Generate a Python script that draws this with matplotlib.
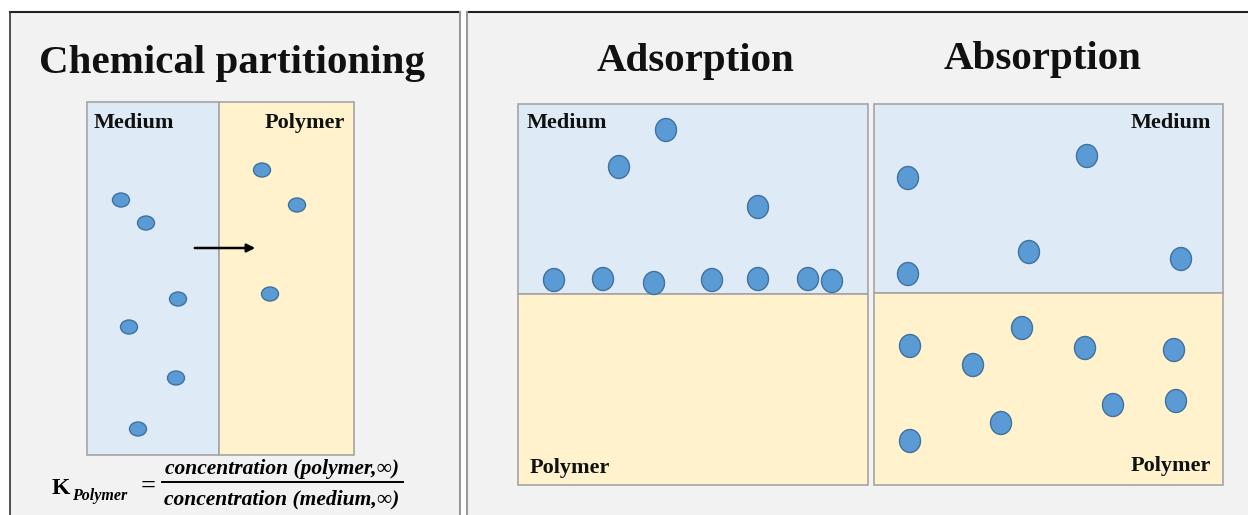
import matplotlib.pyplot as plt
from matplotlib.patches import Rectangle, Ellipse

# dot centres, in pixel coordinates of the reference picture
part_medium_x = [121, 146, 178, 129, 176, 138]
part_medium_y = [200, 223, 299, 327, 378, 429]
part_polymer_x = [262, 297, 270]
part_polymer_y = [170, 205, 294]

ads_medium_x = [666, 619, 758]
ads_medium_y = [130, 167, 207]
ads_surface_x = [554, 603, 654, 712, 758, 808, 832]
ads_surface_y = [280, 279, 283, 280, 279, 279, 281]

abs_medium_x = [908, 1087, 1029, 908, 1181]
abs_medium_y = [178, 156, 252, 274, 259]
abs_polymer_x = [910, 973, 1022, 1085, 1174, 1001, 1113, 1176, 910]
abs_polymer_y = [346, 365, 328, 348, 350, 423, 405, 401, 441]

MEDIUM = '#deebf7'
POLYMER = '#fff2cc'
PANEL = '#f2f2f2'
DOT = '#5b9bd5'
DOT_EDGE = '#41719c'
BOX_EDGE = '#a5a5a5'
SERIF = ['Liberation Serif', 'DejaVu Serif']


def box(ax, x0, y0, x1, y1, color):
    ax.add_patch(Rectangle((x0, y0), x1 - x0, y1 - y0, facecolor=color,
                           edgecolor=BOX_EDGE, lw=1.2, zorder=2))


def dots(ax, xs, ys, w, h):
    for x, y in zip(xs, ys):
        ax.add_patch(Ellipse((x, y), w, h, facecolor=DOT, edgecolor=DOT_EDGE,
                             lw=1.0, zorder=4))


def label(ax, x, y, s, ha='left'):
    ax.text(x, y, s, ha=ha, va='center', fontsize=16, fontweight='bold',
            family=SERIF, color='#111111', zorder=5)


def main():
    fig = plt.figure(figsize=(12.48, 5.15), dpi=100)
    ax = fig.add_axes([0, 0, 1, 1])
    ax.set_xlim(0, 1248)
    ax.set_ylim(515, 0)
    ax.axis('off')

    # the two gray panels
    ax.add_patch(Rectangle((10, 12), 450, 510, facecolor=PANEL, edgecolor='none', zorder=0))
    ax.add_patch(Rectangle((467, 12), 790, 510, facecolor=PANEL, edgecolor='none', zorder=0))
    ax.plot([10, 460], [12, 12], color='#222222', lw=1.5, zorder=1)
    ax.plot([10, 10], [12, 515], color='#333333', lw=1.2, zorder=1)
    ax.plot([460, 460], [12, 515], color='#999999', lw=1.5, zorder=1)
    ax.plot([467, 1248], [12, 12], color='#222222', lw=1.5, zorder=1)
    ax.plot([467, 467], [12, 515], color='#999999', lw=1.5, zorder=1)

    # chemical partitioning
    ax.text(232, 64, 'Chemical partitioning', ha='center', va='center',
            fontsize=29.5, fontweight='bold', family=SERIF, color='#111111')
    box(ax, 87, 102, 219, 455, MEDIUM)
    box(ax, 219, 102, 354, 455, POLYMER)
    label(ax, 94, 123, 'Medium')
    label(ax, 345, 123, 'Polymer', ha='right')
    dots(ax, part_medium_x, part_medium_y, 17, 14)
    dots(ax, part_polymer_x, part_polymer_y, 17, 14)
    ax.annotate('', xy=(258, 248), xytext=(192, 248),
                arrowprops=dict(arrowstyle='-|>', color='black', lw=1.8,
                                mutation_scale=12), zorder=5)

    # formula
    ax.text(52, 489, 'K', ha='left', va='center', fontsize=17,
            fontweight='bold', family=SERIF)
    ax.text(72, 496, 'Polymer', ha='left', va='center', fontsize=11.5,
            fontweight='bold', fontstyle='italic', family=SERIF)
    ax.text(148, 486, '=', ha='center', va='center', fontsize=19,
            fontweight='bold', family=SERIF)
    ax.plot([162, 403], [482, 482], color='black', lw=1.4)
    ax.text(282, 469, 'concentration (polymer,\u221e)', ha='center', va='center',
            fontsize=15.5, fontweight='bold', fontstyle='italic', family=SERIF)
    ax.text(282, 499, 'concentration (medium,\u221e)', ha='center', va='center',
            fontsize=15.5, fontweight='bold', fontstyle='italic', family=SERIF)

    # adsorption
    ax.text(696, 62, 'Adsorption', ha='center', va='center', fontsize=29.5,
            fontweight='bold', family=SERIF, color='#111111')
    box(ax, 518, 104, 868, 294, MEDIUM)
    box(ax, 518, 294, 868, 485, POLYMER)
    label(ax, 527, 123, 'Medium')
    label(ax, 530, 468, 'Polymer')
    dots(ax, ads_medium_x, ads_medium_y, 21, 23)
    dots(ax, ads_surface_x, ads_surface_y, 21, 23)

    # absorption
    ax.text(1043, 59, 'Absorption', ha='center', va='center', fontsize=29.5,
            fontweight='bold', family=SERIF, color='#111111')
    box(ax, 874, 104, 1223, 293, MEDIUM)
    box(ax, 874, 293, 1223, 485, POLYMER)
    label(ax, 1211, 123, 'Medium', ha='right')
    label(ax, 1211, 466, 'Polymer', ha='right')
    dots(ax, abs_medium_x, abs_medium_y, 21, 23)
    dots(ax, abs_polymer_x, abs_polymer_y, 21, 23)

    fig.savefig('out.png', dpi=100, facecolor='white')


if __name__ == '__main__':
    main()
